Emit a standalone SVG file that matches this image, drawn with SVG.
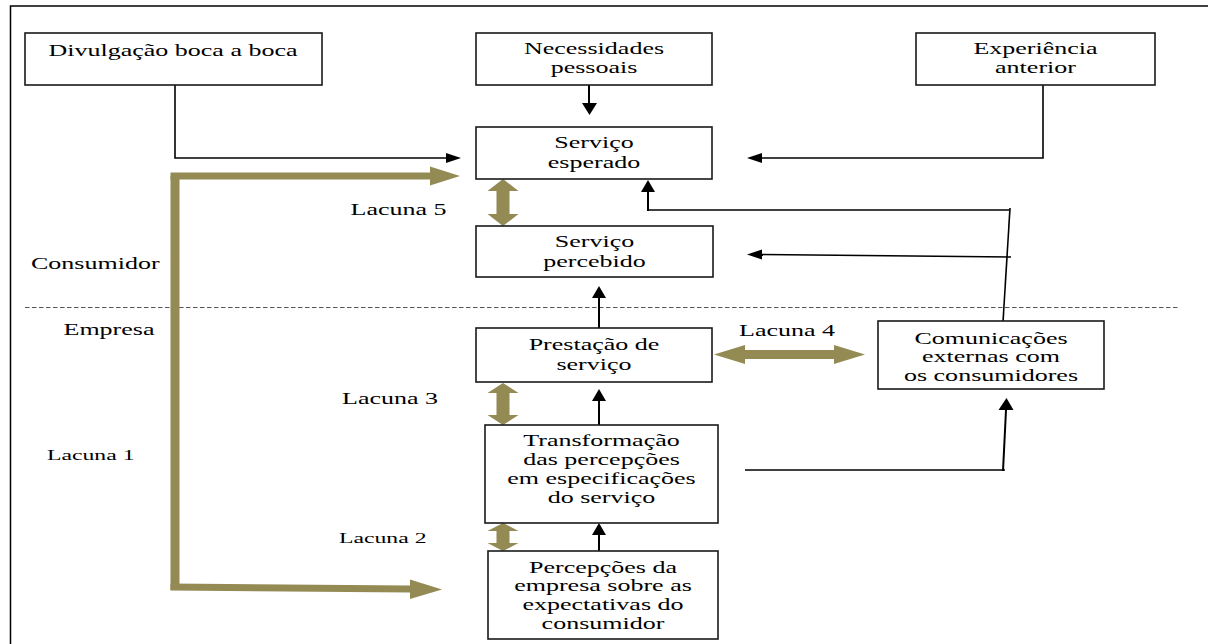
<svg xmlns="http://www.w3.org/2000/svg" width="1208" height="644" viewBox="0 0 1208 644">
<style>
.box{fill:#fff;stroke:#1a1a1a;stroke-width:1.6}
.t{font-family:"Liberation Serif","Times New Roman",serif;font-size:17px;fill:#000;text-anchor:middle}
.l{font-family:"Liberation Serif","Times New Roman",serif;font-size:17px;fill:#000}
.ln{fill:none;stroke:#000;stroke-width:1.6}
.lv{fill:none;stroke:#000;stroke-width:2}
.ah{fill:#000}
.gold{fill:none;stroke:#948A54}
.gh{fill:#948A54}
</style>
<rect width="1208" height="644" fill="#fff"/>
<path d="M10.5 644 V6 H1208" fill="none" stroke="#000" stroke-width="1.5"/>
<line x1="25" y1="307.5" x2="1178" y2="307.5" stroke="#555" stroke-width="1.2" stroke-dasharray="4.5,2.5"/>

<g id="connectors">
  <path class="ln" d="M175 85 V158 H447"/>
  <polygon class="ah" points="446,153 461,158 446,163"/>
  <path class="lv" d="M589 85 V104"/>
  <polygon class="ah" points="582,103 597,103 589.5,115"/>
  <path class="ln" d="M1043 85 V158 H760"/>
  <polygon class="ah" points="762,153 747,158 762,163"/>
  <path class="ln" d="M1009 210 H648"/>
  <path class="lv" d="M648 211 V191"/>
  <polygon class="ah" points="641,192 655,192 648,180"/>
  <path class="ln" d="M1010 208 L1003 322"/>
  <path class="ln" d="M1011 257 L760 254.5"/>
  <polygon class="ah" points="762,249.5 747,254.5 762,259.5"/>
  <path class="lv" d="M599 328 V297"/>
  <polygon class="ah" points="592,298 606,298 599,286"/>
  <path class="lv" d="M599 425 V400"/>
  <polygon class="ah" points="592,401 606,401 599,389"/>
  <path class="lv" d="M599 551 V534"/>
  <polygon class="ah" points="592,535 606,535 599,523"/>
  <path class="ln" d="M745 470 H1005"/>
  <path class="lv" d="M1003 471 L1006 410"/>
  <polygon class="ah" points="998.5,410 1013.5,410 1006.5,398"/>

  <path class="gold" stroke-width="9" d="M175 590 V176"/>
  <path class="gold" stroke-width="7" d="M170.5 176 H431"/>
  <polygon class="gh" points="430,166.5 460,176 430,185.5"/>
  <path class="gold" stroke-width="7" d="M170.5 587 L411 589"/>
  <polygon class="gh" points="410,579.5 442,589.5 410,599"/>

  <polygon class="gh" points="503,179 518.5,191 509.5,191 509.5,214 518.5,214 503,226 487.5,214 496.5,214 496.5,191 487.5,191"/>
  <polygon class="gh" points="503,383 518.5,393 509.5,393 509.5,415 518.5,415 503,425 487.5,415 496.5,415 496.5,393 487.5,393"/>
  <polygon class="gh" points="503,523 518.5,531 509.5,531 509.5,543 518.5,543 503,551 487.5,543 496.5,543 496.5,531 487.5,531"/>
  <polygon class="gh" points="714,354.5 745,345 745,350 834,350 834,345 865,354.5 834,364 834,359 745,359 745,364"/>
</g>

<g id="n-divulgacao">
  <rect class="box" x="25" y="33" width="297" height="52"/>
  <g transform="translate(173,0) scale(1.53,1)"><text class="t" x="0" y="56">Divulgação boca a boca</text></g>
</g>
<g id="n-necessidades">
  <rect class="box" x="476" y="33" width="236" height="52"/>
  <g transform="translate(594,0) scale(1.53,1)"><text class="t" x="0" y="54">Necessidades</text><text class="t" x="0" y="73">pessoais</text></g>
</g>
<g id="n-experiencia">
  <rect class="box" x="916" y="33" width="239" height="52"/>
  <g transform="translate(1035.5,0) scale(1.53,1)"><text class="t" x="0" y="54">Experiência</text><text class="t" x="0" y="73">anterior</text></g>
</g>
<g id="n-esperado">
  <rect class="box" x="476" y="127" width="236" height="52"/>
  <g transform="translate(594,0) scale(1.53,1)"><text class="t" x="0" y="148">Serviço</text><text class="t" x="0" y="168">esperado</text></g>
</g>
<g id="n-percebido">
  <rect class="box" x="476" y="226" width="237" height="51"/>
  <g transform="translate(594.5,0) scale(1.53,1)"><text class="t" x="0" y="247">Serviço</text><text class="t" x="0" y="267">percebido</text></g>
</g>
<g id="n-prestacao">
  <rect class="box" x="476" y="328" width="236" height="54"/>
  <g transform="translate(594,0) scale(1.53,1)"><text class="t" x="0" y="350">Prestação de</text><text class="t" x="0" y="370">serviço</text></g>
</g>
<g id="n-transformacao">
  <rect class="box" x="485" y="425" width="233" height="98"/>
  <g transform="translate(601.5,0) scale(1.53,1)"><text class="t" x="0" y="446">Transformação</text><text class="t" x="0" y="465">das percepções</text><text class="t" x="0" y="484">em especificações</text><text class="t" x="0" y="503">do serviço</text></g>
</g>
<g id="n-percepcoes">
  <rect class="box" x="488" y="551" width="230" height="88"/>
  <g transform="translate(603,0) scale(1.53,1)"><text class="t" x="0" y="573">Percepções da</text><text class="t" x="0" y="591">empresa sobre as</text><text class="t" x="0" y="610">expectativas do</text><text class="t" x="0" y="629">consumidor</text></g>
</g>
<g id="n-comunicacoes">
  <rect class="box" x="878" y="321" width="226" height="68"/>
  <g transform="translate(991,0) scale(1.53,1)"><text class="t" x="0" y="344">Comunicações</text><text class="t" x="0" y="362">externas com</text><text class="t" x="0" y="381">os consumidores</text></g>
</g>

<g id="labels">
  <text class="l" transform="translate(31,269) scale(1.53,1)">Consumidor</text>
  <text class="l" transform="translate(63.5,335) scale(1.53,1)">Empresa</text>
  <text class="l" transform="translate(350.5,215) scale(1.53,1)">Lacuna 5</text>
  <text class="l" transform="translate(739,336) scale(1.53,1)">Lacuna 4</text>
  <text class="l" transform="translate(342,404) scale(1.53,1)">Lacuna 3</text>
  <text class="l" style="font-size:15.5px" transform="translate(339,543) scale(1.53,1)">Lacuna 2</text>
  <text class="l" style="font-size:15.5px" transform="translate(47,460) scale(1.53,1)">Lacuna 1</text>
</g>
</svg>
